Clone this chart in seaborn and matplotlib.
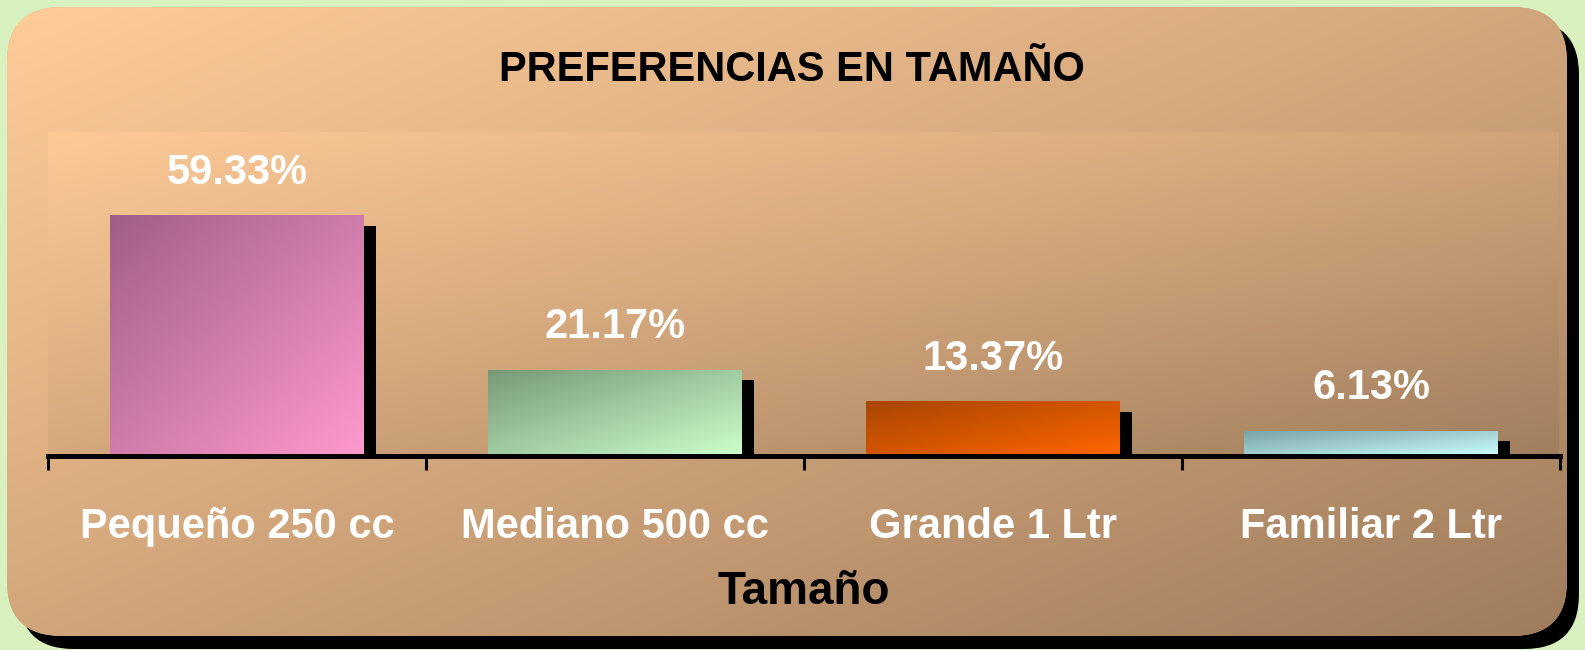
import numpy as np
import seaborn as sns
import matplotlib.pyplot as plt
import matplotlib.transforms as mtransforms
from matplotlib.patches import FancyBboxPatch, Rectangle
from matplotlib.colors import LinearSegmentedColormap

# datos
categorias = ["Pequeño 250 cc", "Mediano 500 cc", "Grande 1 Ltr", "Familiar 2 Ltr"]
porcentajes = [59.33, 21.17, 13.37, 6.13]
etiquetas = ["59.33%", "21.17%", "13.37%", "6.13%"]
gradientes = [("#A05F87", "#FF99CC"), ("#779977", "#CCFFCC"),
              ("#A84500", "#FF6600"), ("#78A2A6", "#CCFFFF")]

sns.set_style("white")
plt.rcParams["font.family"] = ["Liberation Sans", "DejaVu Sans"]

W, H = 1585, 650
fig = plt.figure(figsize=(W / 100, H / 100), dpi=100, facecolor="#D9F0BF")

# fondo: panel redondeado con sombra y degradado
bg = fig.add_axes([0, 0, 1, 1])
bg.set_xlim(0, W)
bg.set_ylim(H, 0)
bg.axis("off")

def grad(n=256):
    xx, yy = np.meshgrid(np.linspace(0, 1, n), np.linspace(0, 1, n))
    return (xx + yy) / 2

fondo_cmap = LinearSegmentedColormap.from_list("fondo", ["#FFCC99", "#D2A67C", "#9E7C5C"])

sombra = FancyBboxPatch((19, 20), 1560, 629, boxstyle="round,pad=0,rounding_size=55",
                        fc="black", ec="none", zorder=1)
bg.add_patch(sombra)
panel = FancyBboxPatch((7, 7), 1560, 629, boxstyle="round,pad=0,rounding_size=55",
                       fc="#D2A67C", ec="none", zorder=1)
bg.add_patch(panel)
bg.imshow(grad(), cmap=fondo_cmap, extent=(7, 1567, 636, 7), aspect="auto",
          clip_path=panel, interpolation="bilinear", zorder=2)
bg.imshow(grad(), cmap=fondo_cmap, extent=(48, 1559, 456, 132), aspect="auto",
          interpolation="bilinear", alpha=0.8, zorder=3)
bg.set_xlim(0, W)
bg.set_ylim(H, 0)

# grafico de barras
ax = fig.add_axes([48 / W, (H - 456) / H, (1560 - 48) / W, (456 - 132) / H])
ax.set_facecolor("none")
sns.barplot(x=categorias, y=porcentajes, ax=ax, width=0.67, color="gray")

desplazada = mtransforms.offset_copy(ax.transData, fig=fig, x=12, y=-10, units="dots")
for barra, (c0, c1) in zip(ax.patches, gradientes):
    x0, w, h = barra.get_x(), barra.get_width(), barra.get_height()
    ax.add_patch(Rectangle((x0, 0), w, h, fc="black", ec="none",
                           transform=desplazada, zorder=1))
    barra.set_facecolor("none")
    barra.set_edgecolor("none")
    barra.set_zorder(2)
    cmap = LinearSegmentedColormap.from_list("b", [c0, c1])
    ax.imshow(grad(), cmap=cmap, extent=(x0, x0 + w, 0, h), aspect="auto",
              clip_path=barra, zorder=2, interpolation="bilinear")

for i, (v, t) in enumerate(zip(porcentajes, etiquetas)):
    ax.annotate(t, (i, v), xytext=(0, 23), textcoords="offset points",
                ha="center", va="baseline", fontsize=30, fontweight="bold",
                color="white")

ax.set_xlim(-0.5, 3.5)
ax.set_ylim(0, 80)
ax.set_yticks([])
for lado in ["left", "right", "top"]:
    ax.spines[lado].set_visible(False)
ax.spines["bottom"].set_linewidth(3.6)
ax.spines["bottom"].set_color("black")
ax.spines["bottom"].set_zorder(5)
ax.set_xticks([-0.5, 0.5, 1.5, 2.5, 3.5], minor=True)
ax.tick_params(axis="x", which="major", bottom=False, length=0, pad=37,
               labelsize=30, labelcolor="white")
ax.tick_params(axis="x", which="minor", bottom=True, length=10, width=2.2,
               color="black", direction="out")
for lab in ax.get_xticklabels():
    lab.set_fontweight("bold")

ax.set_xlabel("Tamaño", fontsize=33, fontweight="bold", color="black", labelpad=16)

fig.text(792 / W, 1 - 70 / H, "PREFERENCIAS EN TAMAÑO", ha="center", va="center",
         fontsize=30, fontweight="bold", color="black")

fig.savefig("out.png", dpi=100, facecolor=fig.get_facecolor())
